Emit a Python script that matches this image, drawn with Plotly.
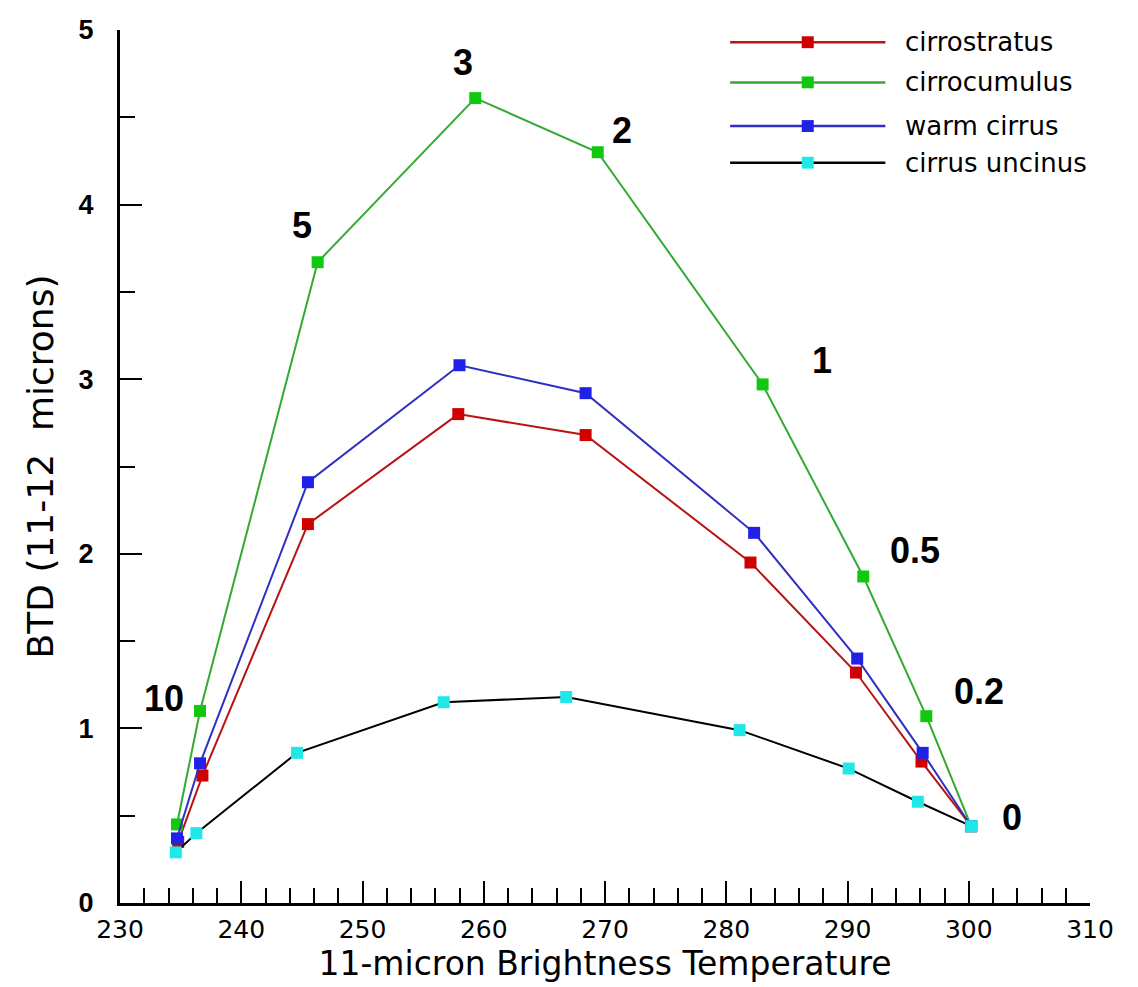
import plotly.graph_objects as go

# ---- data ----
series_names = ["cirrostratus", "cirrocumulus", "warm cirrus", "cirrus uncinus"]

cirrostratus_x = [234.8, 236.8, 245.5, 257.9, 268.4, 282.0, 290.7, 296.1, 300.2]
cirrostratus_y = [0.35, 0.73, 2.17, 2.80, 2.68, 1.95, 1.32, 0.81, 0.44]

cirrocumulus_x = [234.7, 236.6, 246.3, 259.3, 269.4, 283.0, 291.3, 296.5, 300.2]
cirrocumulus_y = [0.45, 1.10, 3.67, 4.61, 4.30, 2.97, 1.87, 1.07, 0.44]

warm_cirrus_x = [234.7, 236.6, 245.5, 258.0, 268.4, 282.3, 290.8, 296.2, 300.2]
warm_cirrus_y = [0.37, 0.80, 2.41, 3.08, 2.92, 2.12, 1.40, 0.86, 0.44]

cirrus_uncinus_x = [234.6, 236.3, 244.6, 256.7, 266.8, 281.1, 290.1, 295.8, 300.2]
cirrus_uncinus_y = [0.29, 0.40, 0.86, 1.15, 1.18, 0.99, 0.77, 0.58, 0.44]

# optical-depth labels attached to the cirrocumulus points (None = unlabeled)
od_labels = [None, "10", "5", "3", "2", "1", "0.5", "0.2", "0"]

x_ticks = [230, 240, 250, 260, 270, 280, 290, 300, 310]
y_ticks = [0, 1, 2, 3, 4, 5]

# ---- styles ----
line_colors = ["#b81414", "#33aa33", "#3030c0", "#000000"]
marker_colors = ["#d00000", "#10c810", "#2020e8", "#20e8e8"]
label_shifts = [None, (-36, 12), (-16, 37), (-12, 36), (24, 22), (59, 24),
                (52, 26), (53, 25), (41, 9)]

xs = [cirrostratus_x, cirrocumulus_x, warm_cirrus_x, cirrus_uncinus_x]
ys = [cirrostratus_y, cirrocumulus_y, warm_cirrus_y, cirrus_uncinus_y]

fig = go.Figure()
for name, x, y, lc, mc in zip(series_names, xs, ys, line_colors, marker_colors):
    fig.add_trace(go.Scatter(
        x=x, y=y, name=name, mode="lines+markers",
        line=dict(color=lc, width=2),
        marker=dict(symbol="square", size=12, color=mc, line=dict(width=0)),
        showlegend=False,
    ))

FONT = "Liberation Sans, Arial, sans-serif"
WIDE = "DejaVu Sans, Verdana, sans-serif"

for lab, xv, yv, sh in zip(od_labels, cirrocumulus_x, cirrocumulus_y, label_shifts):
    if lab is None:
        continue
    fig.add_annotation(x=xv, y=yv, text="<b>%s</b>" % lab, showarrow=False,
                       xshift=sh[0], yshift=sh[1],
                       font=dict(family=FONT, size=36, color="black"))

# custom legend (long sample lines, square marker in middle)
leg_x0, leg_x1, leg_text_x = 0.629, 0.789, 0.807
leg_rows = [0.986, 0.940, 0.890, 0.848]
for name, lc, mc, yy in zip(series_names, line_colors, marker_colors, leg_rows):
    fig.add_shape(type="line", xref="paper", yref="paper",
                  x0=leg_x0, x1=leg_x1, y0=yy, y1=yy,
                  line=dict(color=lc, width=2.5))
    xm = (leg_x0 + leg_x1) / 2
    fig.add_shape(type="rect", xref="paper", yref="paper",
                  x0=xm - 0.0062, x1=xm + 0.0062, y0=yy - 0.0068, y1=yy + 0.0068,
                  line=dict(width=0), fillcolor=mc)
    fig.add_annotation(xref="paper", yref="paper", x=leg_text_x, y=yy,
                       text=name, showarrow=False, xanchor="left", yanchor="middle",
                       font=dict(family=WIDE, size=26, color="black"))

# page body has an 8px margin: shrink the figure so the plot area lands
# where the reference has it
fig.update_layout(
    width=1130, height=979,
    margin=dict(l=112, r=48, t=22, b=84),
    paper_bgcolor="white", plot_bgcolor="white",
    font=dict(family=FONT, color="black"),
    showlegend=False,
)
fig.update_xaxes(
    range=[230, 310], tickvals=x_ticks, ticktext=[str(v) for v in x_ticks],
    showgrid=False, zeroline=False, showline=True, linecolor="black", linewidth=3,
    ticks="inside", ticklen=22, tickwidth=2, tickcolor="black",
    minor=dict(dtick=2, ticks="inside", ticklen=15, tickwidth=2, tickcolor="black"),
    tickfont=dict(family=WIDE, size=25), ticklabelstandoff=2,
    automargin=False,
    title=dict(text="11-micron Brightness Temperature", standoff=0,
               font=dict(family=WIDE, size=33)),
)
fig.update_yaxes(
    range=[0, 5], tickvals=y_ticks, ticktext=["<b>%d</b>" % v for v in y_ticks],
    showgrid=False, zeroline=False, showline=True, linecolor="black", linewidth=3,
    ticks="inside", ticklen=22, tickwidth=2, tickcolor="black",
    minor=dict(dtick=0.5, ticks="inside", ticklen=15, tickwidth=2, tickcolor="black"),
    tickfont=dict(family=FONT, size=27), ticklabelstandoff=18,
    automargin=False,
    title=dict(text="BTD (11-12  microns)", standoff=14,
               font=dict(family=WIDE, size=36)),
)

fig.write_html("out.html")
